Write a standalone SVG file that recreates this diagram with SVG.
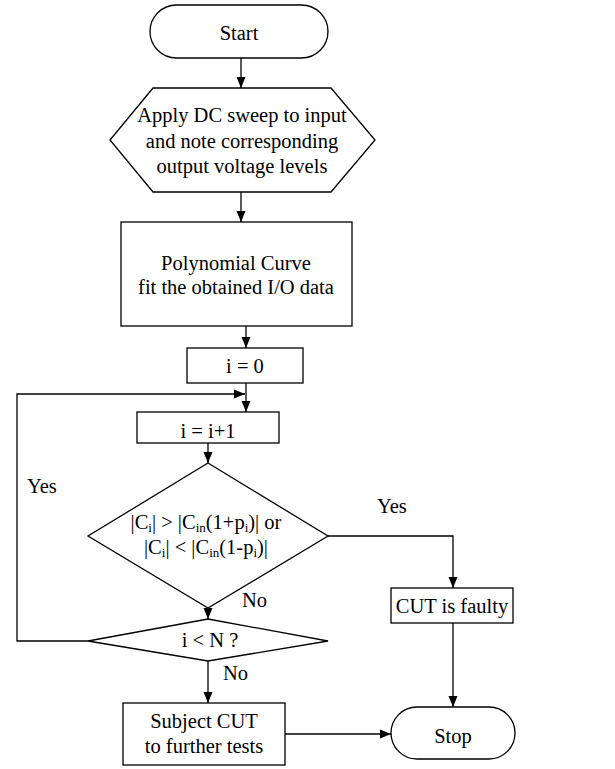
<svg xmlns="http://www.w3.org/2000/svg" width="615" height="769" viewBox="0 0 615 769">
  <style>
    .shape { fill: #fff; stroke: #000; stroke-width: 1.3; }
    .line { fill: none; stroke: #000; stroke-width: 1.3; }
    text { font-family: "Liberation Serif", "Times New Roman", serif; font-size: 20.5px; fill: #000; }
    .c { text-anchor: middle; }
    .sub { font-size: 13px; }
  </style>
  <defs>
    <marker id="arrow" markerWidth="11" markerHeight="10" refX="11" refY="5" orient="auto" markerUnits="userSpaceOnUse">
      <path d="M0,0.5 L11,5 L0,9.5 Z" fill="#000"/>
    </marker>
  </defs>
  <rect width="615" height="769" fill="#fff"/>

  <!-- connectors -->
  <g id="connectors">
    <line class="line" x1="241" y1="58" x2="241" y2="88" marker-end="url(#arrow)"/>
    <line class="line" x1="241" y1="192" x2="241" y2="222" marker-end="url(#arrow)"/>
    <line class="line" x1="246" y1="326" x2="246" y2="348" marker-end="url(#arrow)"/>
    <line class="line" x1="246" y1="383" x2="246" y2="412" marker-end="url(#arrow)"/>
    <line class="line" x1="208" y1="443" x2="208" y2="463" marker-end="url(#arrow)"/>
    <line class="line" x1="208" y1="608" x2="208" y2="619" marker-end="url(#arrow)"/>
    <line class="line" x1="208" y1="661" x2="208" y2="703" marker-end="url(#arrow)"/>
    <polyline class="line" points="88,641 17,641 17,394 245,394" marker-end="url(#arrow)"/>
    <polyline class="line" points="328,536 453,536 453,588" marker-end="url(#arrow)"/>
    <line class="line" x1="453" y1="623" x2="453" y2="707" marker-end="url(#arrow)"/>
    <line class="line" x1="285" y1="734" x2="391" y2="734" marker-end="url(#arrow)"/>
    <text x="27" y="493">Yes</text>
    <text x="377" y="513">Yes</text>
    <text x="242" y="607">No</text>
    <text x="223" y="680">No</text>
  </g>

  <g id="start">
    <rect class="shape" x="150" y="5" width="178" height="53" rx="26.5" ry="26.5"/>
    <text class="c" x="239" y="40">Start</text>
  </g>

  <g id="dc-sweep">
    <polygon class="shape" points="110,140 153,88 331,88 375,140 331,192 153,192"/>
    <text class="c" x="242" y="122">Apply DC sweep to input</text>
    <text class="c" x="242" y="148">and note corresponding</text>
    <text class="c" x="242" y="173">output voltage levels</text>
  </g>

  <g id="curve-fit">
    <rect class="shape" x="121" y="222" width="231" height="104"/>
    <text class="c" x="236" y="270">Polynomial Curve</text>
    <text class="c" x="236" y="294">fit the obtained I/O data</text>
  </g>

  <g id="init">
    <rect class="shape" x="187" y="348" width="116" height="35"/>
    <text class="c" x="245" y="373">i = 0</text>
  </g>

  <g id="increment">
    <rect class="shape" x="137" y="412" width="142" height="31"/>
    <text class="c" x="208" y="438">i = i+1</text>
  </g>

  <g id="check-coeff">
    <polygon class="shape" points="208,463 328,536 208,608 88,536"/>
    <text class="c" x="206" y="529">|C<tspan class="sub" dy="3">i</tspan><tspan dy="-3">| &gt; |C</tspan><tspan class="sub" dy="3">in</tspan><tspan dy="-3">(1+p</tspan><tspan class="sub" dy="3">i</tspan><tspan dy="-3">)| or</tspan></text>
    <text class="c" x="206" y="554">|C<tspan class="sub" dy="3">i</tspan><tspan dy="-3">| &lt; |C</tspan><tspan class="sub" dy="3">in</tspan><tspan dy="-3">(1-p</tspan><tspan class="sub" dy="3">i</tspan><tspan dy="-3">)|</tspan></text>
  </g>

  <g id="loop-check">
    <polygon class="shape" points="208,619 328,641 208,661 88,641"/>
    <text class="c" x="210" y="647">i &lt; N ?</text>
  </g>

  <g id="faulty">
    <rect class="shape" x="391" y="588" width="122" height="35"/>
    <text class="c" x="452" y="613">CUT is faulty</text>
  </g>

  <g id="further-tests">
    <rect class="shape" x="123" y="703" width="162" height="62"/>
    <text class="c" x="204" y="728">Subject CUT</text>
    <text class="c" x="204" y="753">to further tests</text>
  </g>

  <g id="stop">
    <rect class="shape" x="391" y="707" width="124" height="52" rx="26" ry="26"/>
    <text class="c" x="453" y="743">Stop</text>
  </g>
</svg>
